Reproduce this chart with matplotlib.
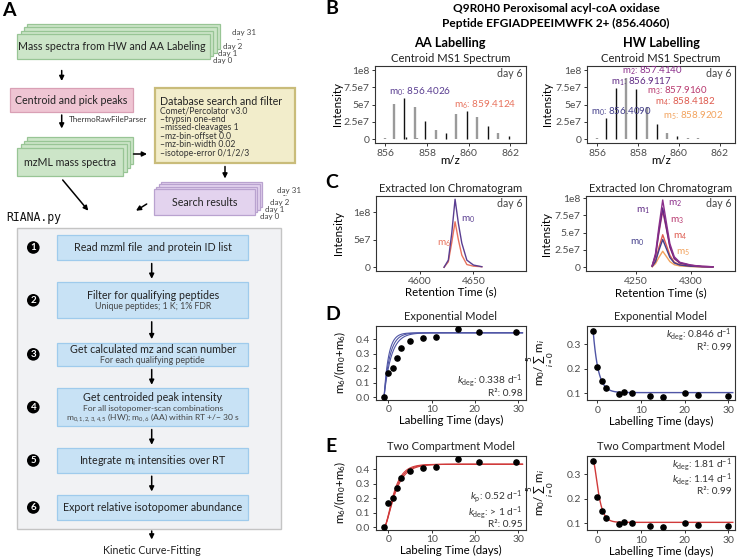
import numpy as np
import matplotlib
matplotlib.use('Agg')
import matplotlib.pyplot as plt
from matplotlib.patches import Rectangle, Circle

plt.rcParams['font.family'] = ['Lato', 'DejaVu Sans']
plt.rcParams['mathtext.fontset'] = 'custom'
plt.rcParams['mathtext.rm'] = 'Lato'
plt.rcParams['mathtext.it'] = 'Lato:italic'
plt.rcParams['mathtext.bf'] = 'Lato:bold'

# ---------------- DATA ----------------
# Panel B: centroid MS1 spectra (m/z, intensity)
aa_mz_gray = [856.00, 856.40, 857.40, 857.53, 858.41, 859.41, 860.42, 861.42]
aa_int_gray = [0.015e8, 0.51e8, 0.47e8, 0.015e8, 0.14e8, 0.36e8, 0.315e8, 0.085e8]
aa_mz_black = [856.90, 857.00, 857.91, 858.91, 859.92, 860.92, 861.93]
aa_int_black = [0.60e8, 0.03e8, 0.265e8, 0.085e8, 0.41e8, 0.19e8, 0.05e8]

hw_mz_gray = [856.00, 857.414, 858.418, 859.42, 860.44, 860.93, 861.95]
hw_int_gray = [0.02e8, 0.89e8, 0.46e8, 0.09e8, 0.02e8, 0.012e8, 0.01e8]
hw_mz_black = [856.409, 856.912, 857.916, 858.920, 859.93]
hw_int_black = [0.30e8, 0.745e8, 0.72e8, 0.225e8, 0.045e8]

aa_peak_labels = ['m$_0$: 856.4026', 'm$_6$: 859.4124']
hw_peak_labels = ['m$_0$: 856.4090', 'm$_1$: 856.9117', 'm$_2$: 857.4140',
                  'm$_3$: 857.9160', 'm$_4$: 858.4182', 'm$_5$: 858.9202']

# Panel C: extracted ion chromatograms
aa_rt = [4622.5, 4626.5, 4629.7, 4632.8, 4635.9, 4639.1, 4643.8, 4650.0, 4657.8]
aa_eic_m0 = [0.0, 0.13e8, 0.62e8, 1.24e8, 0.80e8, 0.44e8, 0.13e8, 0.04e8, 0.01e8]
aa_eic_m6 = [0.0, 0.10e8, 0.45e8, 0.83e8, 0.50e8, 0.22e8, 0.05e8, 0.02e8, 0.01e8]

hw_rt = [4265, 4268, 4271, 4274.5, 4278, 4281, 4285, 4290, 4300, 4310, 4320]
hw_eic = {
    'm0': [0.01e8, 0.08e8, 0.24e8, 0.40e8, 0.26e8, 0.14e8, 0.06e8, 0.03e8, 0.012e8, 0.005e8, 0.002e8],
    'm1': [0.02e8, 0.17e8, 0.52e8, 0.86e8, 0.56e8, 0.30e8, 0.13e8, 0.06e8, 0.025e8, 0.01e8, 0.005e8],
    'm2': [0.02e8, 0.20e8, 0.58e8, 0.975e8, 0.63e8, 0.34e8, 0.15e8, 0.07e8, 0.03e8, 0.01e8, 0.005e8],
    'm3': [0.02e8, 0.16e8, 0.49e8, 0.82e8, 0.54e8, 0.29e8, 0.12e8, 0.06e8, 0.025e8, 0.01e8, 0.005e8],
    'm4': [0.01e8, 0.09e8, 0.28e8, 0.47e8, 0.31e8, 0.17e8, 0.07e8, 0.035e8, 0.015e8, 0.006e8, 0.003e8],
    'm5': [0.005e8, 0.05e8, 0.14e8, 0.23e8, 0.15e8, 0.08e8, 0.035e8, 0.017e8, 0.007e8, 0.003e8, 0.001e8],
}

# Panels D/E: kinetics
aa_days = [-1, 0, 1, 2, 3, 5, 8, 11, 16, 21, 29.5]
aa_frac = [0.003, 0.170, 0.203, 0.273, 0.343, 0.386, 0.412, 0.419, 0.471, 0.448, 0.451]
hw_days = [-1, 0, 1, 2, 5, 6, 8, 12, 15, 20, 23, 30]
hw_frac = [0.354, 0.207, 0.151, 0.123, 0.097, 0.104, 0.101, 0.090, 0.084, 0.100, 0.095, 0.090]

# fit parameters (model curves)
fit_t0 = -1.0
exp_aa_plateau = 0.445
exp_aa_rates = [0.60, 0.75, 0.95]
exp_hw_start, exp_hw_plateau, exp_hw_rate = 0.354, 0.103, 0.846
tc_aa_plateau = 0.435
tc_aa_kp = [0.47, 0.52, 0.58]
tc_aa_kd = 1.2
tc_hw_start, tc_hw_plateau, tc_hw_k1, tc_hw_k2 = 0.354, 0.104, 1.81, 1.14

# fit annotation texts
fit_texts = {
    'D_left': ['$k_{\\mathrm{deg}}$: 0.338 d$^{-1}$', 'R\u00b2: 0.98'],
    'D_right': ['$k_{\\mathrm{deg}}$: 0.846 d$^{-1}$', 'R\u00b2: 0.99'],
    'E_left': ['$k_{\\mathrm{p}}$: 0.52 d$^{-1}$', '$k_{\\mathrm{deg}}$: > 1 d$^{-1}$', 'R\u00b2: 0.95'],
    'E_right': ['$k_{\\mathrm{deg}}$: 1.81 d$^{-1}$', '$k_{\\mathrm{deg}}$: 1.14 d$^{-1}$', 'R\u00b2: 0.99'],
}

# Flowchart labels
step_titles = ['Read mzml file  and protein ID list', 'Filter for qualifying peptides',
               'Get calculated mz and scan number', 'Get centroided peak intensity',
               'Integrate m$_\\mathrm{i}$ intensities over RT', 'Export relative isotopomer abundance']
step_subs = [[], ['Unique peptides; 1 K; 1% FDR'], ['For each qualifying peptide'],
             ['For all isotopomer-scan combinations',
              'm$_{0,1,2,3,4,5}$ (HW); m$_{0,6}$ (AA) within RT +/\u2212 30 s'], [], []]
db_lines = ['Comet/Percolator v3.0', '\u2013trypsin one-end', '\u2013missed-cleavages 1',
            '\u2013mz-bin-offset 0.0', '\u2013mz-bin-width 0.02', '\u2013isotope-error 0/1/2/3']
day_labels = ['day 0', 'day 1', 'day 2', 'day 31']

# colours
iso_cols = {'m0': '#433E8A', 'm1': '#5F2A84', 'm2': '#8B2F8B', 'm3': '#B8396F',
            'm4': '#DE5A4E', 'm5': '#F2A25C'}
aa_m0_col, aa_m6_col = '#5A3E91', '#E8735E'
blue_fit, red_fit = '#4F55A5', '#D03A3A'

# ---------------- FIGURE ----------------
W, H = 738, 560
fig = plt.figure(figsize=(W / 100, H / 100), dpi=100)

ov = fig.add_axes([0, 0, 1, 1])
ov.set_xlim(0, W)
ov.set_ylim(H, 0)
ov.axis('off')
ov.set_zorder(10)

BIG = 7.7     # flowchart box text
TITLE = 8.1   # sub-panel titles


def px_axes(x0, y0, x1, y1):
    ax = fig.add_axes([x0 / W, 1 - y1 / H, (x1 - x0) / W, (y1 - y0) / H])
    for s in ax.spines.values():
        s.set_color('#333333')
        s.set_linewidth(0.8)
    ax.tick_params(length=2.5, width=0.7, color='#333333', labelsize=7.5,
                   labelcolor='#4D4D4D', pad=1.5)
    return ax


def arrow(x0, y0, x1, y1):
    ov.annotate('', xy=(x1, y1), xytext=(x0, y0),
                arrowprops=dict(arrowstyle='-|>', lw=1.1, color='black',
                                mutation_scale=7, shrinkA=0, shrinkB=0))


def stack(x0, y0, x1, y1, n, dx, dy, fc, ec):
    for i in range(n - 1, -1, -1):
        ov.add_patch(Rectangle((x0 + i * dx, y0 - i * dy), x1 - x0, y1 - y0,
                               fc=fc, ec=ec, lw=0.9))

# ---------------- PANEL A ----------------
ov.text(2, 10, 'A', fontsize=14, fontweight='bold', va='center', ha='left')
stack(17.3, 34, 210, 59.3, 4, 3.3, 3.3, '#CCE5C8', '#98C595')
ov.text(112, 47, 'Mass spectra from HW and AA Labeling', fontsize=BIG, ha='center', va='center', color='#222')
for (lx, ly), lab in zip([(223, 60), (228, 53.3), (233, 46.7), (243.5, 33)], day_labels):
    ov.text(lx, ly, lab, fontsize=5.8, ha='center', va='center', color='#444')
ov.text(239, 40, '\u00b7\u00b7\u00b7', fontsize=4.5, ha='center', va='center', color='#444')
arrow(61.7, 70.5, 61.7, 81)

ov.add_patch(Rectangle((10, 88.3), 122.7, 24, fc='#EFC5D3', ec='#D9A0B5', lw=0.9))
ov.text(71.3, 100.3, 'Centroid and pick peaks', fontsize=BIG, ha='center', va='center', color='#222')
arrow(61.7, 115, 61.7, 128.5)
ov.text(68.5, 120, 'ThermoRawFileParser', fontsize=5.8, ha='left', va='center', color='#333')

stack(17.3, 148.3, 123.3, 176, 4, 3.3, 3.9, '#CCE5C8', '#98C595')
ov.text(70.3, 162.3, 'mzML mass spectra', fontsize=BIG, ha='center', va='center', color='#222')
arrow(133.5, 154, 147, 154)

ov.add_patch(Rectangle((155, 88.3), 140, 75, fc='#F2EDCB', ec='#C9BC7A', lw=1.6))
ov.text(159.5, 101.5, 'Database search and filter', fontsize=BIG, ha='left', va='center', color='#222')
for i, ln in enumerate(db_lines):
    ov.text(159.5, 110.7 + i * 8.5, ln, fontsize=6.2, ha='left', va='center', color='#333')
arrow(225, 166.5, 225, 178.5)

stack(154, 189.3, 255, 215, 4, 2.3, 2.6, '#E3D3EE', '#B9A2CF')
ov.text(204.5, 202.3, 'Search results', fontsize=BIG, ha='center', va='center', color='#222')
for (lx, ly), lab in zip([(270, 216), (275, 209.3), (280, 202.7), (289, 190)], day_labels):
    ov.text(lx, ly, lab, fontsize=5.8, ha='center', va='center', color='#444')
ov.text(285, 196, '\u00b7\u00b7\u00b7', fontsize=4.5, ha='center', va='center', color='#444')
arrow(146.7, 204, 136, 210.7)
arrow(62.7, 180, 88.3, 210.7)

ov.text(6.5, 217, 'RIANA.py', fontsize=8.3, family='DejaVu Sans Mono', ha='left', va='center', color='#111')
ov.add_patch(Rectangle((16.7, 228.3), 264, 301, fc='#F1F2F4', ec='#C4C4C4', lw=1.0))

boxes = [(235, 260), (282.3, 318.3), (342.7, 366), (388.3, 426), (448.3, 472.7), (495, 520)]
for i, (y0, y1) in enumerate(boxes):
    ov.add_patch(Rectangle((57.3, y0), 191, y1 - y0, fc='#C8E2F5', ec='#9FCBEC', lw=0.9))
    cy = (y0 + y1) / 2
    ov.add_patch(Circle((33.3, cy), 6.3, fc='black', ec='none'))
    ov.text(33.3, cy + 0.3, str(i + 1), fontsize=7, fontweight='bold', color='white', ha='center', va='center')
    subs = step_subs[i]
    if not subs:
        ov.text(152.8, cy, step_titles[i], fontsize=BIG, ha='center', va='center', color='#222')
    elif len(subs) == 1:
        ov.text(152.8, cy - 4.5, step_titles[i], fontsize=BIG, ha='center', va='center', color='#222')
        ov.text(152.8, cy + 6, subs[0], fontsize=6.3, ha='center', va='center', color='#444')
    else:
        ov.text(152.8, cy - 9.2, step_titles[i], fontsize=BIG, ha='center', va='center', color='#222')
        ov.text(152.8, cy + 0.9, subs[0], fontsize=6.1, ha='center', va='center', color='#444')
        ov.text(152.8, cy + 10.4, subs[1], fontsize=6.1, ha='center', va='center', color='#444')
    if i < len(boxes) - 1:
        arrow(151.7, y1 + 3.5, 151.7, boxes[i + 1][0] - 3.5)
arrow(151.7, 531, 151.7, 539.5)
ov.text(151.7, 551, 'Kinetic Curve-Fitting', fontsize=BIG, ha='center', va='center', color='#222')

# ---------------- PANEL TITLES ----------------
for lab, y in zip('BCDE', [9, 183, 315, 447]):
    ov.text(325, y, lab, fontsize=14, fontweight='bold', ha='left', va='center')
ov.text(556, 8.5, 'Q9R0H0 Peroxisomal acyl-coA oxidase', fontsize=8.6, fontweight='bold', ha='center', va='center')
ov.text(556, 23.5, 'Peptide EFGIADPEEIMWFK 2+ (856.4060)', fontsize=8.6, fontweight='bold', ha='center', va='center')
ov.text(450, 43, 'AA Labelling', fontsize=9.2, fontweight='bold', ha='center', va='center')
ov.text(661, 43, 'HW Labelling', fontsize=9.2, fontweight='bold', ha='center', va='center')
for cx in (451, 661):
    ov.text(cx, 58, 'Centroid MS1 Spectrum', fontsize=TITLE, ha='center', va='center', color='#222')
    ov.text(cx, 188, 'Extracted Ion Chromatogram', fontsize=TITLE, ha='center', va='center', color='#222')
    ov.text(cx, 316.7, 'Exponential Model', fontsize=TITLE, ha='center', va='center', color='#222')
    ov.text(cx, 447, 'Two Compartment Model', fontsize=TITLE, ha='center', va='center', color='#222')

# ---------------- PANEL B ----------------
mz_ticks = [856, 858, 860, 862]
int_ticks = [0, 0.25e8, 0.5e8, 0.75e8, 1e8]
for (x0, x1), gm, gi, bm, bi in [((375, 526), aa_mz_gray, aa_int_gray, aa_mz_black, aa_int_black),
                                 ((587, 735), hw_mz_gray, hw_int_gray, hw_mz_black, hw_int_black)]:
    ax = px_axes(x0, 66, x1, 143)
    ax.vlines(gm, 0, gi, colors='#9A9A9A', lw=1.7)
    ax.vlines(bm, 0, bi, colors='#111111', lw=1.0)
    ax.set_xlim(855.5, 862.75)
    ax.set_ylim(-0.055e8, 1.06e8)
    ax.set_xticks(mz_ticks)
    ax.set_yticks(int_ticks)
    ax.set_yticklabels(['0', '2.5e7', '5e7', '7.5e7', '1e8'])
    ax.set_xlabel('m/z', fontsize=8.3)
    ax.set_ylabel('Intensity', fontsize=8.3)
    ax.yaxis.set_label_coords(-0.213 if x0 < 500 else -0.23, 0.5)
    ax.xaxis.set_label_coords(0.5, -0.16)
    ax.text(0.975, 0.9, 'day 6', transform=ax.transAxes, ha='right', va='center', fontsize=7.6, color='#444')

ov.text(389, 91.7, aa_peak_labels[0], fontsize=7.2, color=aa_m0_col, ha='left', va='center')
ov.text(454, 105, aa_peak_labels[1], fontsize=7.2, color=aa_m6_col, ha='left', va='center')
hw_lab_pos = [(591, 111.7), (611, 81.9), (622, 70.5), (647, 90.5), (655, 102), (663, 115.7)]
for (lx, ly), lab, key in zip(hw_lab_pos, hw_peak_labels, ['m0', 'm1', 'm2', 'm3', 'm4', 'm5']):
    ov.text(lx, ly, lab, fontsize=7.0, color=iso_cols[key], ha='left', va='center')

# ---------------- PANEL C ----------------
ax = px_axes(376, 196, 526, 271)
ax.plot(aa_rt, aa_eic_m6, color=aa_m6_col, lw=1.0)
ax.plot(aa_rt, aa_eic_m0, color=aa_m0_col, lw=1.0)
ax.set_xlim(4559, 4699)
ax.set_ylim(-0.068e8, 1.30e8)
ax.set_xticks([4600, 4650])
ax.set_yticks([0, 0.5e8, 1e8])
ax.set_yticklabels(['0', '5e7', '1e8'])
ax.set_xlabel('Retention Time (s)', fontsize=8.3)
ax.set_ylabel('Intensity', fontsize=8.3)
ax.yaxis.set_label_coords(-0.213, 0.5)
ax.xaxis.set_label_coords(0.5, -0.205)
ax.text(0.975, 0.9, 'day 6', transform=ax.transAxes, ha='right', va='center', fontsize=7.6, color='#444')
ov.text(468, 220, 'm$_0$', fontsize=7.2, color=aa_m0_col, ha='center', va='center')
ov.text(444, 244, 'm$_6$', fontsize=7.2, color=aa_m6_col, ha='center', va='center')

ax = px_axes(586, 196, 735, 271.5)
for key in ['m5', 'm4', 'm0', 'm3', 'm1', 'm2']:
    ax.plot(hw_rt, hw_eic[key], color=iso_cols[key], lw=1.0)
ax.set_xlim(4205, 4340)
ax.set_ylim(-0.064e8, 1.033e8)
ax.set_xticks([4250, 4300])
ax.set_yticks(int_ticks)
ax.set_yticklabels(['0', '2.5e7', '5.e7', '7.5e7', '1e8'])
ax.set_xlabel('Retention Time (s)', fontsize=8.3)
ax.set_ylabel('Intensity', fontsize=8.3)
ax.yaxis.set_label_coords(-0.23, 0.5)
ax.xaxis.set_label_coords(0.5, -0.205)
ax.text(0.975, 0.9, 'day 6', transform=ax.transAxes, ha='right', va='center', fontsize=7.6, color='#444')
for key, (lx, ly) in zip(['m1', 'm2', 'm3', 'm4', 'm0', 'm5'],
                         [(643, 211), (675, 204), (677, 221), (680, 236.7), (637, 242.7), (683, 253)]):
    ov.text(lx, ly, 'm$_%s$' % key[1], fontsize=7.2, color=iso_cols[key], ha='center', va='center')

# ---------------- PANELS D / E ----------------
tt = np.linspace(fit_t0, 31, 300)
dt = tt - fit_t0


def kin_axes(y0, y1, left, xlabel):
    if left:
        ax = px_axes(376, y0, 526, y1)
        ax.set_xlim(-2.85, 31.8)
        ax.set_ylim(-0.016, 0.492)
        ax.set_yticks([0, 0.1, 0.2, 0.3, 0.4])
        ax.set_yticklabels(['0.0', '0.1', '0.2', '0.3', '0.4'])
        ax.set_ylabel('m$_6$/(m$_0$+m$_6$)', fontsize=8.3)
        ax.yaxis.set_label_coords(-0.19, 0.5)
    else:
        ax = px_axes(587, y0, 735, y1)
        ax.set_xlim(-2.4, 31.5)
        ax.set_ylim(0.073, 0.373)
        ax.set_yticks([0.1, 0.2, 0.3])
        ax.set_ylabel('m$_0$/$\\sum_{i=0}^{5}$m$_i$', fontsize=8.3)
        ax.yaxis.set_label_coords(-0.2, 0.5)
    ax.set_xticks([0, 10, 20, 30])
    ax.set_xlabel(xlabel, fontsize=8.3)
    ax.xaxis.set_label_coords(0.5, -0.215)
    return ax


def fit_note(ax, lines, ytop, ls=1.0):
    # multi-line right-aligned annotation, top anchored (axes fraction)
    ax.text(0.975, ytop, '\n'.join(lines), transform=ax.transAxes, ha='right', va='top',
            multialignment='right', linespacing=ls, fontsize=7.3, color='#333')

# D left
ax = kin_axes(326, 399.5, True, 'Labelling Time (days)')
for k in exp_aa_rates:
    ax.plot(tt, exp_aa_plateau * (1 - np.exp(-k * dt)), color=blue_fit, lw=0.8)
ax.scatter(aa_days, aa_frac, s=14, color='black', zorder=5)
fit_note(ax, fit_texts['D_left'], 0.37)

# D right
ax = kin_axes(326, 400, False, 'Labelling Time (days)')
ax.plot(tt, exp_hw_plateau + (exp_hw_start - exp_hw_plateau) * np.exp(-exp_hw_rate * dt), color=blue_fit, lw=1.0)
ax.scatter(hw_days, hw_frac, s=14, color='black', zorder=5)
fit_note(ax, fit_texts['D_right'], 0.995)

# E left
ax = kin_axes(456, 529.5, True, 'Labeling Time (days)')
for kp in tc_aa_kp:
    kd = tc_aa_kd
    ax.plot(tt, tc_aa_plateau * (1 - (kp * np.exp(-kd * dt) - kd * np.exp(-kp * dt)) / (kp - kd)),
            color=red_fit, lw=0.8)
ax.scatter(aa_days, aa_frac, s=14, color='black', zorder=5)
fit_note(ax, fit_texts['E_left'], 0.56, 0.92)

# E right
ax = kin_axes(456, 530, False, 'Labelling Time (days)')
k1, k2 = tc_hw_k1, tc_hw_k2
ax.plot(tt, tc_hw_plateau + (tc_hw_start - tc_hw_plateau) * (k1 * np.exp(-k2 * dt) - k2 * np.exp(-k1 * dt)) / (k1 - k2),
        color=red_fit, lw=1.0)
ax.scatter(hw_days, hw_frac, s=14, color='black', zorder=5)
fit_note(ax, fit_texts['E_right'], 0.995, 0.82)

fig.savefig('out.png', dpi=100)
